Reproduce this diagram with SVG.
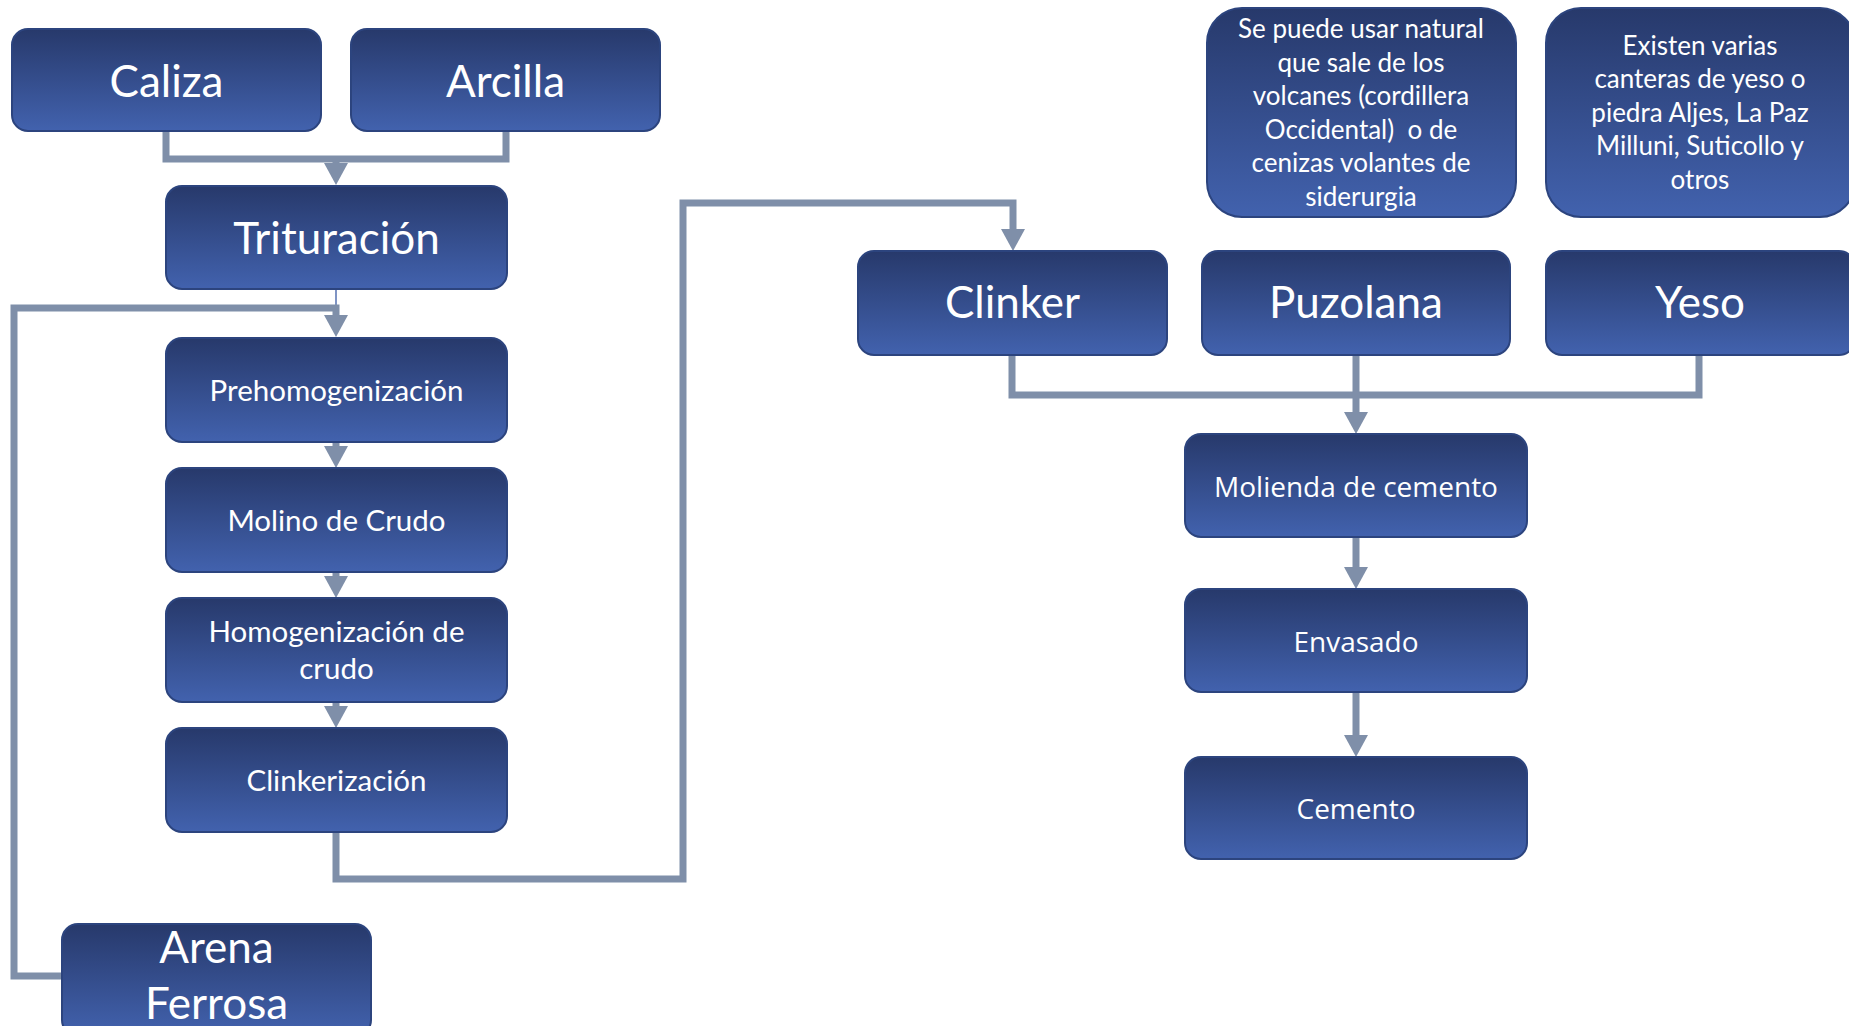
<svg xmlns="http://www.w3.org/2000/svg" width="1849" height="1026" viewBox="0 0 1849 1026">
<defs>
<linearGradient id="g" x1="0" y1="0" x2="0" y2="1">
<stop offset="0" stop-color="#27396B"/>
<stop offset="1" stop-color="#4262AE"/>
</linearGradient>
<marker id="ah" viewBox="0 0 22 24" markerWidth="22" markerHeight="24" refX="0" refY="12" orient="auto" markerUnits="userSpaceOnUse">
<path d="M0,0 L22,12 L0,24 z" fill="#7F8FA9"/>
</marker>
<style>
.box{fill:url(#g);stroke:#2C447E;stroke-width:2}
.t{fill:#fff;font-family:Lato,"Open Sans",sans-serif;text-anchor:middle}
.L{font-size:44px}
.M{font-size:29.5px}
.S{font-size:26px}
.r{fill:#fff;font-family:"Open Sans","Noto Sans",sans-serif;text-anchor:middle;font-size:28px}
.c{fill:none;stroke:#7F8FA9;stroke-width:7;stroke-linejoin:miter}
.a{marker-end:url(#ah)}
</style>
</defs>
<rect width="1849" height="1026" fill="#fff"/>
<g id="connectors">
<path class="c" d="M166,131 V159 H506 V131"/>
<path class="c a" d="M336,159 V163"/>
<path d="M336,289 V308" stroke="#5470B0" stroke-width="1.5" fill="none"/>
<path class="c a" d="M62,976 H14 V308 H336 V315"/>
<path class="c a" d="M336,442 V446"/>
<path class="c a" d="M336,572 V576"/>
<path class="c a" d="M336,702 V706"/>
<path class="c a" d="M336,832 V879 H683 V203 H1013 V229"/>
<path class="c" d="M1012,355 V395 H1699 V355"/>
<path class="c a" d="M1356,355 V412"/>
<path class="c a" d="M1356,537 V567"/>
<path class="c a" d="M1356,692 V735"/>
</g>
<g id="caliza"><rect class="box" x="12" y="29" width="309" height="102" rx="16"/><text class="t L" x="166.5" y="97">Caliza</text></g>
<g id="arcilla"><rect class="box" x="351" y="29" width="309" height="102" rx="16"/><text class="t L" x="505.5" y="97">Arcilla</text></g>
<g id="trituracion"><rect class="box" x="166" y="186" width="341" height="103" rx="16"/><text class="t L" x="336.5" y="254">Trituración</text></g>
<g id="prehomogenizacion"><rect class="box" x="166" y="338" width="341" height="104" rx="16"/><text class="t M" x="336.5" y="401">Prehomogenización</text></g>
<g id="molino"><rect class="box" x="166" y="468" width="341" height="104" rx="16"/><text class="t M" x="336.5" y="531">Molino de Crudo</text></g>
<g id="homogenizacion"><rect class="box" x="166" y="598" width="341" height="104" rx="16"/><text class="t M" x="336.5" y="642">Homogenización de</text><text class="t M" x="336.5" y="679">crudo</text></g>
<g id="clinkerizacion"><rect class="box" x="166" y="728" width="341" height="104" rx="16"/><text class="t M" x="336.5" y="791">Clinkerización</text></g>
<g id="arena"><rect class="box" x="62" y="924" width="309" height="112" rx="16"/><text class="t L" x="216.5" y="963">Arena</text><text class="t L" x="216.5" y="1019">Ferrosa</text></g>
<g id="clinker"><rect class="box" x="858" y="251" width="309" height="104" rx="16"/><text class="t L" x="1012.5" y="318">Clinker</text></g>
<g id="puzolana"><rect class="box" x="1202" y="251" width="308" height="104" rx="16"/><text class="t L" x="1356" y="318">Puzolana</text></g>
<g id="yeso"><rect class="box" x="1546" y="251" width="309" height="104" rx="16"/><text class="t L" x="1700" y="318">Yeso</text></g>
<g id="nota-puzolana"><rect class="box" x="1207" y="8" width="309" height="209" rx="35"/>
<text class="t S" x="1361" y="38">Se puede usar natural</text>
<text class="t S" x="1361" y="72">que sale de los</text>
<text class="t S" x="1361" y="105">volcanes (cordillera</text>
<text class="t S" x="1361" y="139" xml:space="preserve">Occidental)  o de</text>
<text class="t S" x="1361" y="172">cenizas volantes de</text>
<text class="t S" x="1361" y="206">siderurgia</text></g>
<g id="nota-yeso"><rect class="box" x="1546" y="8" width="309" height="209" rx="35"/>
<text class="t S" x="1700" y="55">Existen varias</text>
<text class="t S" x="1700" y="88">canteras de yeso o</text>
<text class="t S" x="1700" y="122">piedra Aljes, La Paz</text>
<text class="t S" x="1700" y="155">Milluni, Suticollo y</text>
<text class="t S" x="1700" y="189">otros</text></g>
<g id="molienda"><rect class="box" x="1185" y="434" width="342" height="103" rx="16"/><text class="r" x="1356" y="497">Molienda de cemento</text></g>
<g id="envasado"><rect class="box" x="1185" y="589" width="342" height="103" rx="16"/><text class="r" x="1356" y="652">Envasado</text></g>
<g id="cemento"><rect class="box" x="1185" y="757" width="342" height="102" rx="16"/><text class="r" x="1356" y="819">Cemento</text></g>
</svg>
